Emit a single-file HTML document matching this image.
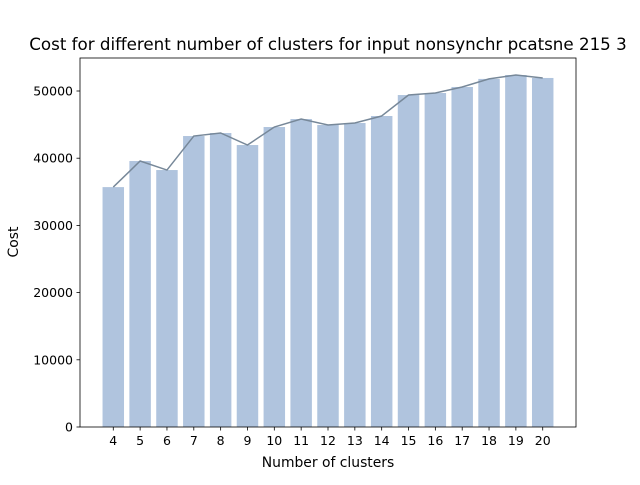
<!DOCTYPE html>
<html><head><meta charset="utf-8"><style>
body{margin:0;background:#fff;font-family:"Liberation Sans","DejaVu Sans",sans-serif;}
svg text{font-family:"DejaVu Sans","Liberation Sans",sans-serif;}
</style></head><body>
<svg id="chart" width="640" height="480">
<rect width="640" height="480" fill="#fff"/>
<g id="bars"></g>
<g id="line"></g>
<g id="axes"></g>
<text x="328" y="50" font-size="16.7" text-anchor="middle">Cost for different number of clusters for input nonsynchr pcatsne 215 3</text>
<text x="328" y="467" font-size="13.9" text-anchor="middle">Number of clusters</text>
<text x="18" y="242" font-size="13.9" text-anchor="middle" transform="rotate(-90 18 242)">Cost</text>
</svg>
<script>
const categories=[4,5,6,7,8,9,10,11,12,13,14,15,16,17,18,19,20];
const costs=[35700,39580,38240,43300,43750,41960,44640,45830,44940,45240,46280,49400,49700,50600,51800,52380,51940];
const yTicks=[0,10000,20000,30000,40000,50000];
const NS="http://www.w3.org/2000/svg";
const L=80,R=576,T=58,B=427;
const xmin=2.76,xmax=21.24;
const x=v=>L+(v-xmin)/(xmax-xmin)*(R-L);
const y=v=>B-v/50000*(B-91);
function mk(t,a,p){const e=document.createElementNS(NS,t);for(const k in a)e.setAttribute(k,a[k]);p.appendChild(e);return e;}
const bars=document.getElementById('bars'),line=document.getElementById('line'),axes=document.getElementById('axes');
const bw=x(0.8)-x(0);
categories.forEach((c,i)=>{
 const r=mk('rect',{x:x(c)-bw/2,y:y(costs[i]),width:bw,height:B-y(costs[i]),fill:'#b0c4de'},bars);
 
 
 mk('line',{x1:x(c),x2:x(c),y1:B,y2:B+3.5,stroke:'#000','stroke-width':0.8},axes);
 const t=mk('text',{x:x(c),y:B+18,'font-size':12.5,'text-anchor':'middle'},axes);t.textContent=c;
 
 
});
const p=mk('polyline',{points:categories.map((c,i)=>x(c)+','+y(costs[i])).join(' '),fill:'none',stroke:'#778899','stroke-width':1.5},line);


yTicks.forEach(v=>{
 mk('line',{x1:L-3.5,x2:L,y1:y(v),y2:y(v),stroke:'#000','stroke-width':0.8},axes);
 const t=mk('text',{x:L-7,y:y(v)+4.5,'font-size':12.5,'text-anchor':'end'},axes);t.textContent=v;
 
 
});
mk('rect',{x:L,y:T,width:R-L,height:B-T,fill:'none',stroke:'#000','stroke-width':0.8},axes);
</script>
</body></html>
